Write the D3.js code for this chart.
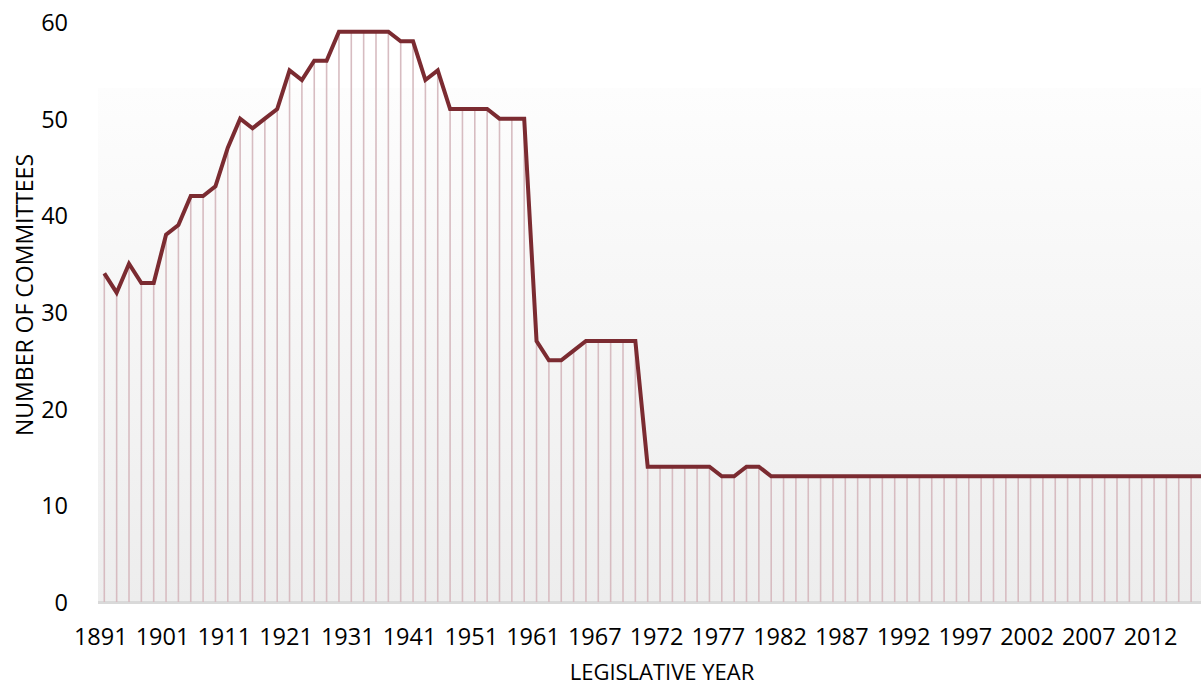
<!DOCTYPE html>
<html>
<head>
<meta charset="utf-8">
<script src="https://cdn.jsdelivr.net/npm/d3@7"></script>
<style>
  body { margin: 0; background: #fff; }
  text { font-family: "Open Sans", sans-serif; fill: #000; }
</style>
</head>
<body>
<svg id="chart"></svg>
<script>
// legislative years (biennial until 1961, then mostly annual)
const years = [
  1891, 1893, 1895, 1897, 1899, 1901, 1903, 1905, 1907, 1909,
  1911, 1913, 1915, 1917, 1919, 1921, 1923, 1925, 1927, 1929,
  1931, 1933, 1935, 1937, 1939, 1941, 1943, 1945, 1947, 1949,
  1951, 1953, 1955, 1957, 1959, 1961, 1963, 1964, 1965, 1966,
  1967, 1968, 1969, 1970, 1971, 1972, 1973, 1974, 1975, 1976,
  1977, 1978, 1979, 1980, 1981, 1982, 1983, 1984, 1985, 1986,
  1987, 1988, 1989, 1990, 1991, 1992, 1993, 1994, 1995, 1996,
  1997, 1998, 1999, 2000, 2001, 2002, 2003, 2004, 2005, 2006,
  2007, 2008, 2009, 2010, 2011, 2012, 2013, 2014, 2015, 2016
];

const committees = [
  34, 32, 35, 33, 33, 38, 39, 42, 42, 43,
  47, 50, 49, 50, 51, 55, 54, 56, 56, 59,
  59, 59, 59, 59, 58, 58, 54, 55, 51, 51,
  51, 51, 50, 50, 50, 27, 25, 25, 26, 27,
  27, 27, 27, 27, 14, 14, 14, 14, 14, 14,
  13, 13, 14, 14, 13, 13, 13, 13, 13, 13,
  13, 13, 13, 13, 13, 13, 13, 13, 13, 13,
  13, 13, 13, 13, 13, 13, 13, 13, 13, 13,
  13, 13, 13, 13, 13, 13, 13, 13, 13, 13
];

const tickYears = [1891, 1901, 1911, 1921, 1931, 1941, 1951, 1961, 1967,
  1972, 1977, 1982, 1987, 1992, 1997, 2002, 2007, 2012];

const yTicks = [0, 10, 20, 30, 40, 50, 60];

const data = years.map((y, i) => ({ year: y, value: committees[i] }));

const width = 1201, height = 687;
const plot = { left: 98, top: 88, bottom: 602 };

const svg = d3.select("#chart")
    .attr("width", width)
    .attr("height", height);

// plot background gradient
const defs = svg.append("defs");
const grad = defs.append("linearGradient")
    .attr("id", "bg")
    .attr("x1", 0).attr("y1", 0)
    .attr("x2", 0).attr("y2", 1);
grad.append("stop").attr("offset", "0%").attr("stop-color", "#fdfdfd");
grad.append("stop").attr("offset", "100%").attr("stop-color", "#ededed");

svg.append("rect")
    .attr("x", plot.left)
    .attr("y", plot.top)
    .attr("width", width - plot.left)
    .attr("height", plot.bottom - plot.top)
    .attr("fill", "url(#bg)");

// scales
const xScale = d3.scalePoint()
    .domain(years)
    .range([104.3, 104.3 + 89 * 12.35]);

const yScale = d3.scaleLinear()
    .domain([0, 60])
    .range([plot.bottom, 22]);

// floor band
svg.append("rect")
    .attr("x", plot.left)
    .attr("y", plot.bottom - 1)
    .attr("width", width - plot.left)
    .attr("height", 3)
    .attr("fill", "#d9d9d9");

// drop lines
svg.selectAll(".drop")
    .data(data)
    .join("line")
      .attr("class", "drop")
      .attr("x1", d => xScale(d.year))
      .attr("x2", d => xScale(d.year))
      .attr("y1", d => yScale(d.value))
      .attr("y2", plot.bottom)
      .attr("stroke", "#d7bcc1")
      .attr("stroke-width", 1.6);

// main line
svg.append("path")
    .datum(data)
    .attr("fill", "none")
    .attr("stroke", "#7b2b31")
    .attr("stroke-width", 4)
    .attr("stroke-linejoin", "miter")
    .attr("d", d3.line()
      .x(d => xScale(d.year))
      .y(d => yScale(d.value)));

// y axis (labels only)
const yAxis = d3.axisLeft(yScale).tickValues(yTicks).tickSize(0).tickPadding(0);
const yG = svg.append("g")
    .attr("transform", "translate(68,0)")
    .call(yAxis);
yG.select(".domain").remove();
yG.selectAll("text")
    .style("font-size", "23.5px")
    .style("font-family", "'Open Sans', sans-serif")
    .attr("dy", "0.36em");

// x axis (labels only)
const xAxis = d3.axisBottom(xScale).tickValues(tickYears).tickSize(0).tickPadding(0);
const xG = svg.append("g")
    .attr("transform", "translate(-4,628)")
    .call(xAxis);
xG.select(".domain").remove();
xG.selectAll("text")
    .style("font-size", "23.5px")
    .style("font-family", "'Open Sans', sans-serif")
    .attr("dy", "0.72em");

// axis titles
svg.append("text")
    .attr("text-anchor", "middle")
    .attr("transform", "translate(33,295) rotate(-90)")
    .style("font-size", "23px")
    .text("NUMBER OF COMMITTEES");

svg.append("text")
    .attr("text-anchor", "middle")
    .attr("x", 662)
    .attr("y", 680)
    .style("font-size", "22px")
    .text("LEGISLATIVE YEAR");
</script>
</body>
</html>
